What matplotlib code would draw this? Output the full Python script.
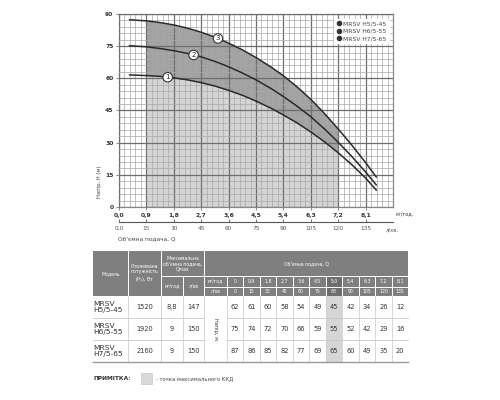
import numpy as np
import matplotlib
matplotlib.use('Agg')
import matplotlib.pyplot as plt
from matplotlib.patches import Rectangle
from matplotlib.lines import Line2D
from matplotlib.ticker import MultipleLocator

plt.rcParams['font.family'] = ['Liberation Sans Narrow', 'DejaVu Sans']

# --- data ---
models = ['MRSV H5/5-45', 'MRSV H6/5-55', 'MRSV H7/5-65']
model_rows = ['MRSV\nH5/5-45', 'MRSV\nH6/5-55', 'MRSV\nH7/5-65']
power_w = ['1520', '1920', '2160']
qmax_m3 = ['8,8', '9', '9']
qmax_l = ['147', '150', '150']
q_m3_lbl = ['0', '0,9', '1,8', '2,7', '3,6', '4,5', '5,0', '5,4', '6,3', '7,2', '8,1']
q_l_lbl = ['0', '15', '30', '45', '60', '75', '83', '90', '105', '120', '135']
heads = [
    [62, 61, 60, 58, 54, 49, 45, 42, 34, 26, 12],
    [75, 74, 72, 70, 66, 59, 55, 52, 42, 29, 16],
    [87, 86, 85, 82, 77, 69, 65, 60, 49, 35, 20],
]
best_col = 6  # 5,0 m3/h

# curves
curve_q = [0.35, 0.9, 1.35, 1.8, 2.25, 2.7, 3.15, 3.6, 4.05, 4.5, 5.0, 5.4, 5.85,
           6.3, 6.75, 7.2, 7.65, 8.1, 8.45]
curve_h1 = [61.6, 61.3, 60.9, 60.2, 59.3, 58.0, 56.4, 54.4, 52.1, 49.4, 46.0, 42.9,
            39.2, 35.0, 30.4, 25.3, 19.7, 13.5, 7.9]
curve_h2 = [75.2, 74.7, 73.9, 72.9, 71.6, 70.0, 67.9, 65.4, 62.5, 59.3, 55.2, 51.5,
            47.0, 42.1, 36.4, 30.2, 23.5, 16.3, 10.3]
curve_h3 = [87.3, 86.8, 86.0, 84.9, 83.4, 81.5, 79.2, 76.4, 73.3, 69.7, 65.2, 61.2,
            56.0, 50.2, 43.6, 36.4, 28.8, 20.7, 14.0]

x_ticks = [0.0, 0.9, 1.8, 2.7, 3.6, 4.5, 5.4, 6.3, 7.2, 8.1]
x_ticks_l = [0, 15, 30, 45, 60, 75, 90, 105, 120, 135]
y_ticks = [0, 15, 30, 45, 60, 75, 90]

W, H = 500, 400
fig = plt.figure(figsize=(5, 4), dpi=100)

def px(x0, y0, x1, y1):
    return [x0 / W, 1 - y1 / H, (x1 - x0) / W, (y1 - y0) / H]

# --- chart ---
ax = fig.add_axes(px(119, 14, 393, 207))
ax.set_xlim(0, 9.0)
ax.set_ylim(0, 90)

cq = np.array(curve_q)
h1 = np.array(curve_h1)
h2 = np.array(curve_h2)
h3 = np.array(curve_h3)
m = (cq >= 0.9) & (cq <= 7.2)
ax.fill_between(cq[m], 0, h1[m], color='#d4d4d4', lw=0, zorder=1)
ax.fill_between(cq[m], h1[m], h3[m], color='#a2a2a2', lw=0, zorder=1)

ax.set_xticks(x_ticks)
ax.set_xticklabels([f'{v:.1f}'.replace('.', ',') for v in x_ticks])
ax.set_yticks(y_ticks)
ax.xaxis.set_minor_locator(MultipleLocator(0.18))
ax.yaxis.set_minor_locator(MultipleLocator(3))
ax.set_axisbelow(False)
ax.tick_params(which='minor', length=0, grid_color='#a8a8a8', grid_linewidth=0.5,
               grid_alpha=1)
ax.tick_params(which='major', length=2.5, width=0.6, color='#777', labelsize=4.3,
               labelcolor='#333', pad=1.5, grid_color='#6e6e6e', grid_linewidth=0.9)
ax.grid(True, which='both')
for lab in ax.get_xticklabels() + ax.get_yticklabels():
    lab.set_fontweight('bold')
for s in ax.spines.values():
    s.set_color('#888')
    s.set_linewidth(0.9)

for hh in (h1, h2, h3):
    ax.plot(cq, hh, color='#2a2a2a', lw=1.1, zorder=3, solid_joinstyle='round')

for i, (hh, xl) in enumerate(zip((h1, h2, h3), (1.6, 2.45, 3.25))):
    ax.text(xl, np.interp(xl, cq, hh), str(i + 1), fontsize=5, ha='center', va='center',
            color='#222', zorder=5,
            bbox=dict(boxstyle='circle,pad=0.25', fc='white', ec='#333', lw=0.8))

handles = [Line2D([], [], ls='none', marker='o', ms=3, color='#333') for _ in models]
leg = ax.legend(handles, models, loc='upper right', fontsize=4.3, frameon=True,
                fancybox=False, framealpha=1, edgecolor='white', handletextpad=0.3,
                borderpad=0.4, labelspacing=0.35, handlelength=0.8,
                bbox_to_anchor=(0.995, 0.99))
leg.set_zorder(6)
for t in leg.get_texts():
    t.set_color('#444')

# secondary l/min scale
ax2 = fig.add_axes(px(119, 221, 393, 222))
ax2.set_xlim(0, 150)
ax2.set_yticks([])
for k in ('top', 'left', 'right'):
    ax2.spines[k].set_visible(False)
ax2.spines['bottom'].set_color('#555')
ax2.spines['bottom'].set_linewidth(0.8)
ax2.patch.set_alpha(0)
ax2.set_xticks(x_ticks_l)
ax2.set_xticklabels(['0,0'] + [str(v) for v in x_ticks_l[1:]])
ax2.tick_params(axis='x', direction='in', length=2, width=0.6, color='#555',
                labelsize=4.2, labelcolor='#555', pad=3)

# --- overlay for labels and table (pixel coords) ---
ov = fig.add_axes([0, 0, 1, 1])
ov.set_xlim(0, W)
ov.set_ylim(H, 0)
ov.axis('off')

ov.text(395, 214, 'м³/год.', fontsize=3.6, color='#333', va='center', ha='left')
ov.text(386, 229.5, 'л/хв.', fontsize=3.8, color='#555', va='center', ha='left')
ov.text(118, 238.5, "Об'ємна подача, Q", fontsize=4.2, color='#444', va='center', ha='left')
ov.text(100, 182, 'Напір, H (м)', fontsize=3.8, color='#444', rotation=90,
        va='center', ha='center')

# table geometry
ncol = 11
c0 = [92.7, 128.3, 161, 182.7, 204.3, 226.7]
cw = (408.3 - 226.7) / ncol
cols = c0 + [226.7 + cw * (i + 1) for i in range(ncol)]
y_top, y_a, y_b, y_c = 251, 276, 286.5, 296
rows = [296, 318.3, 340, 362.3]
hdr = '#7f7f7f'
white = 'white'

ov.add_patch(Rectangle((cols[0], y_top), cols[-1] - cols[0], y_c - y_top, fc=hdr, ec='none'))
bx = cols[5 + best_col]
ov.add_patch(Rectangle((bx, y_a), cw, y_c - y_a, fc='#6d6d6d', ec='none'))
for r in range(3):
    ov.add_patch(Rectangle((bx, rows[r]), cw, rows[r + 1] - rows[r], fc='#d6d6d6', ec='none'))

lw_w = 0.7
for x in cols[1:5]:
    ov.plot([x, x], [y_top, y_c], color=white, lw=lw_w)
ov.plot([cols[3], cols[3]], [y_top, y_c], color=hdr, lw=lw_w)
ov.plot([cols[3], cols[3]], [y_a, y_c], color=white, lw=lw_w)
ov.plot([cols[2], cols[4]], [y_a, y_a], color=white, lw=lw_w)
ov.plot([cols[4], cols[-1]], [y_a, y_a], color=white, lw=lw_w)
ov.plot([cols[4], cols[-1]], [y_b, y_b], color=white, lw=lw_w)
for x in cols[5:-1]:
    ov.plot([x, x], [y_a, y_c], color=white, lw=lw_w)

hk = dict(color='white', fontsize=3.3, ha='center', va='center', linespacing=1.1)
ov.text((cols[0] + cols[1]) / 2, (y_top + y_c) / 2, 'Модель', **hk)
ov.text((cols[1] + cols[2]) / 2, (y_top + y_c) / 2, 'Споживана\nпотужність\n(P$_1$), Вт', **hk)
ov.text((cols[2] + cols[4]) / 2, (y_top + y_a) / 2, "Максимальна\nоб'ємна подача,\nQmax", **hk)
ov.text((cols[2] + cols[3]) / 2, (y_a + y_c) / 2, 'м³/год', **hk)
ov.text((cols[3] + cols[4]) / 2, (y_a + y_c) / 2, 'л/хв', **hk)
ov.text((cols[4] + cols[-1]) / 2, (y_top + y_a) / 2, "Об'ємна подача, Q", **hk)
ov.text((cols[4] + cols[5]) / 2, (y_a + y_b) / 2, 'м³/год', **hk)
ov.text((cols[4] + cols[5]) / 2, (y_b + y_c) / 2, 'л/хв', **hk)
for i in range(ncol):
    xc = (cols[5 + i] + cols[6 + i]) / 2
    ov.text(xc, (y_a + y_b) / 2, q_m3_lbl[i], **hk)
    ov.text(xc, (y_b + y_c) / 2, q_l_lbl[i], **hk)

# body lines
grid_c = '#d0d0d0'
for r in rows[1:3]:
    ov.plot([cols[0], cols[4]], [r, r], color='#c8c8c8', lw=0.6)
    ov.plot([cols[5], cols[-1]], [r, r], color='#c8c8c8', lw=0.6)
for x in cols[1:-1]:
    ov.plot([x, x], [rows[0], rows[-1]], color=grid_c, lw=0.6)
ov.plot([cols[0], cols[-1]], [rows[-1], rows[-1]], color='#999', lw=1.0)

dk = dict(color='#333', fontsize=4.8, ha='center', va='center')
for r in range(3):
    yc = (rows[r] + rows[r + 1]) / 2
    ov.text(cols[0] + 1, yc, model_rows[r], color='#333', fontsize=5.4, ha='left',
            va='center', linespacing=1.0)
    ov.text((cols[1] + cols[2]) / 2, yc, power_w[r], **dk)
    ov.text((cols[2] + cols[3]) / 2, yc, qmax_m3[r], **dk)
    ov.text((cols[3] + cols[4]) / 2, yc, qmax_l[r], **dk)
    for i in range(ncol):
        ov.text((cols[5 + i] + cols[6 + i]) / 2, yc, str(heads[r][i]), **dk)
ov.text((cols[4] + cols[5]) / 2, (rows[0] + rows[-1]) / 2, 'Напір, м', color='#333',
        fontsize=3.6, rotation=270, ha='center', va='center')

# note
ov.text(93, 378.5, 'ПРИМІТКА:', fontsize=4.2, fontweight='bold', color='#333', va='center')
ov.add_patch(Rectangle((141, 372.7), 10.5, 11.5, fc='#d9d9d9', ec='#c8c8c8', lw=0.5))
ov.text(156, 378.5, '- точка максимального ККД', fontsize=3.8, color='#444', va='center')

fig.savefig('out.png', dpi=100)
